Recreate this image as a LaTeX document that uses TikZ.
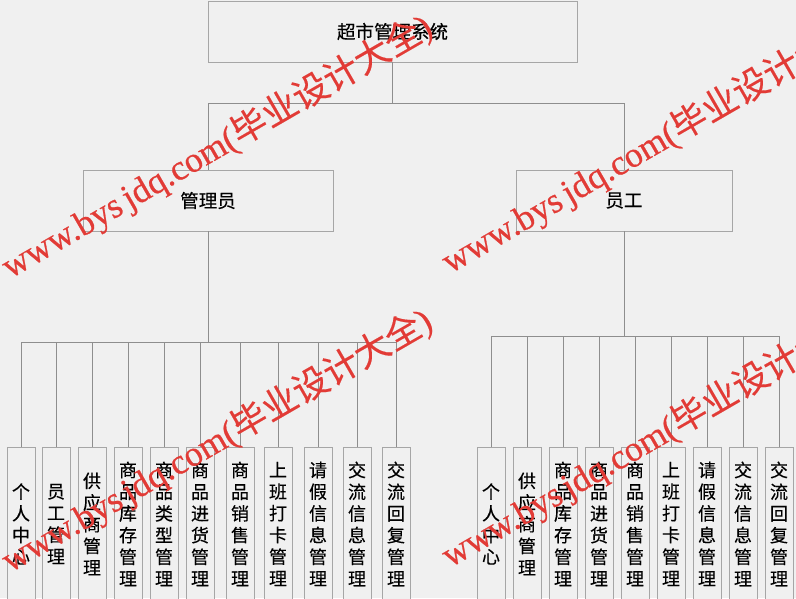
\documentclass[tikz,border=0pt]{standalone}
\usepackage{fontspec}
\setmainfont{Noto Sans CJK SC}
\newfontfamily\boxfont[FakeBold=0.35]{Noto Sans CJK SC}
\newfontfamily\wmlat[FakeBold=0.6]{Liberation Serif}
\newfontfamily\wmcjk[FakeBold=0.3]{Noto Sans CJK SC}
\definecolor{bg}{HTML}{F0F0F0}
\definecolor{boxgray}{HTML}{A6A6A6}
\definecolor{linegray}{HTML}{8E8E8E}
\definecolor{wmred}{HTML}{E23B36}
\tikzset{
  box/.style={draw=boxgray, line width=0.9pt, inner sep=0pt, fill=bg},
  topbox/.style={box, font=\boxfont\fontsize{18.5}{22}\selectfont},
  leaf/.style={box, minimum width=28pt, minimum height=153pt, anchor=north, align=center,
               font=\boxfont\fontsize{18}{21.7}\selectfont},
  conn/.style={draw=linegray, line width=0.9pt},
  wm/.style={text=wmred, rotate=30, anchor=base west, inner sep=0pt, font=\fontsize{35.5}{40}\selectfont}
}
\newcommand{\wmtext}{{\wmlat www.bys\kern0.15em jdq.com(}{\wmcjk 毕业设计大全}{\wmlat )}}
\begin{document}
\begin{tikzpicture}[x=1pt,y=-1pt]
\useasboundingbox (0,0) rectangle (796,598);
\clip (0,0) rectangle (796,598);
\fill[bg] (0,0) rectangle (796,598);

% top level
\node[topbox, minimum width=369pt, minimum height=61pt] (root) at (392.5,31.5) {超市管理系统};
\node[topbox, minimum width=250pt, minimum height=61pt] (admin) at (208,200.5) {管理员};
\node[topbox, minimum width=216pt, minimum height=61pt] (emp) at (624,200.5) {员工};

\coordinate (rbus) at (392.5,103);
\coordinate (abus) at (208,342);
\coordinate (ebus) at (624,336);

% admin leaves
\node[leaf] (a1) at (21,447) {个\\人\\中\\心};
\node[leaf] (a2) at (56,447) {员\\工\\管\\理};
\node[leaf] (a3) at (92,447) {供\\应\\商\\管\\理};
\node[leaf] (a4) at (128,447) {商\\品\\库\\存\\管\\理};
\node[leaf] (a5) at (164,447) {商\\品\\类\\型\\管\\理};
\node[leaf] (a6) at (200,447) {商\\品\\进\\货\\管\\理};
\node[leaf] (a7) at (240,447) {商\\品\\销\\售\\管\\理};
\node[leaf] (a8) at (278,447) {上\\班\\打\\卡\\管\\理};
\node[leaf] (a9) at (318,447) {请\\假\\信\\息\\管\\理};
\node[leaf] (a10) at (357,447) {交\\流\\信\\息\\管\\理};
\node[leaf] (a11) at (396,447) {交\\流\\回\\复\\管\\理};

% employee leaves
\node[leaf] (e1) at (491,447) {个\\人\\中\\心};
\node[leaf] (e2) at (527,447) {供\\应\\商\\管\\理};
\node[leaf] (e3) at (563,447) {商\\品\\库\\存\\管\\理};
\node[leaf] (e4) at (599,447) {商\\品\\进\\货\\管\\理};
\node[leaf] (e5) at (635,447) {商\\品\\销\\售\\管\\理};
\node[leaf] (e6) at (671,447) {上\\班\\打\\卡\\管\\理};
\node[leaf] (e7) at (707,447) {请\\假\\信\\息\\管\\理};
\node[leaf] (e8) at (743,447) {交\\流\\信\\息\\管\\理};
\node[leaf] (e9) at (779,447) {交\\流\\回\\复\\管\\理};

% connectors
\draw[conn] (root.south) -- (rbus);
\draw[conn] (admin.north) -- (admin.north |- rbus) -- (emp.north |- rbus) -- (emp.north);
\draw[conn] (admin.south) -- (abus);
\draw[conn] (a1.north |- abus) -- (a11.north |- abus);
\foreach \i in {1,...,11} { \draw[conn] (a\i.north) -- (a\i.north |- abus); }
\draw[conn] (emp.south) -- (ebus);
\draw[conn] (e1.north |- ebus) -- (e9.north |- ebus);
\foreach \i in {1,...,9} { \draw[conn] (e\i.north) -- (e\i.north |- ebus); }

% watermarks
\node[wm] (w1) at (10,279) {\wmtext};
\node[wm] (w2) at (450,274) {\wmtext};
\node[wm] (w3) at (10,573) {\wmtext};
\node[wm] (w4) at (450,568) {\wmtext};
\end{tikzpicture}
\end{document}
